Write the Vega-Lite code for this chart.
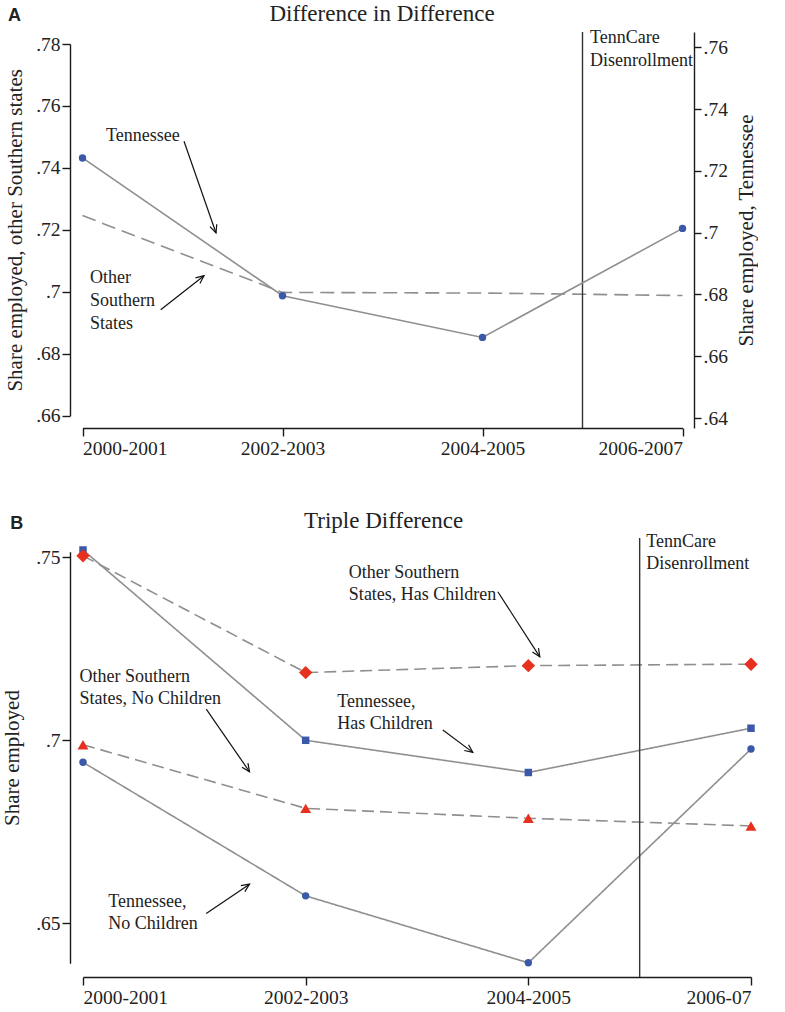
{
  "$schema": "https://vega.github.io/schema/vega-lite/v6.json",
  "background": "white",
  "padding": {"left": 1, "top": 3, "right": 0, "bottom": 0},
  "spacing": 110,
  "bounds": "flush",
  "config": {
    "view": {"stroke": null},
    "font": "Liberation Serif",
    "axis": {
      "domainColor": "#1a1a1a", "domainWidth": 1.4, "tickColor": "#1a1a1a", "tickWidth": 1.4,
      "labelFont": "Liberation Serif", "labelFontSize": 19.5, "labelColor": "#222",
      "titleFont": "Liberation Serif", "titleFontSize": 21, "titleFontWeight": "normal", "titleColor": "#222",
      "grid": false
    }
  },
  "datasets": {
    "did_other": [
      {"period": 0, "share": 0.7246},
      {"period": 1, "share": 0.6998},
      {"period": 2, "share": 0.6996},
      {"period": 3, "share": 0.6988}
    ],
    "did_tn": [
      {"period": 0, "share": 0.7242},
      {"period": 1, "share": 0.6796},
      {"period": 2, "share": 0.6661},
      {"period": 3, "share": 0.7014}
    ],
    "tenncare": [{"period": 2.5}],
    "top_arrows": [
      {"period": 0.5075, "share": 0.7486, "period2": 0.6675, "share2": 0.7190, "angle": 70.7},
      {"period": 0.391, "share": 0.6942, "period2": 0.6075, "share2": 0.7052, "angle": 321.9}
    ],
    "top_text": [
      {"period": 0.1175, "share": 0.7488, "label": "Tennessee"},
      {"period": 0.0375, "share": 0.7028, "label": "Other\nSouthern\nStates"},
      {"period": 2.5375, "share": 0.7803, "label": "TennCare\nDisenrollment"}
    ],
    "top_tag": [{"period": -0.3725, "share": 0.7873, "label": "A"}],
    "top_title": [{"period": 1.4975, "share": 0.7873, "label": "Difference in Difference"}],
    "triple": [
      {"period": 0, "series": "Tennessee, Has Children", "state": "Tennessee", "share": 0.7520},
      {"period": 1, "series": "Tennessee, Has Children", "state": "Tennessee", "share": 0.7000},
      {"period": 2, "series": "Tennessee, Has Children", "state": "Tennessee", "share": 0.6912},
      {"period": 3, "series": "Tennessee, Has Children", "state": "Tennessee", "share": 0.7033},
      {"period": 0, "series": "Tennessee, No Children", "state": "Tennessee", "share": 0.6940},
      {"period": 1, "series": "Tennessee, No Children", "state": "Tennessee", "share": 0.6575},
      {"period": 2, "series": "Tennessee, No Children", "state": "Tennessee", "share": 0.6392},
      {"period": 3, "series": "Tennessee, No Children", "state": "Tennessee", "share": 0.6976},
      {"period": 0, "series": "Other Southern States, Has Children", "state": "Other", "share": 0.7504},
      {"period": 1, "series": "Other Southern States, Has Children", "state": "Other", "share": 0.7185},
      {"period": 2, "series": "Other Southern States, Has Children", "state": "Other", "share": 0.7204},
      {"period": 3, "series": "Other Southern States, Has Children", "state": "Other", "share": 0.7208},
      {"period": 0, "series": "Other Southern States, No Children", "state": "Other", "share": 0.6988},
      {"period": 1, "series": "Other Southern States, No Children", "state": "Other", "share": 0.6814},
      {"period": 2, "series": "Other Southern States, No Children", "state": "Other", "share": 0.6787},
      {"period": 3, "series": "Other Southern States, No Children", "state": "Other", "share": 0.6766}
    ],
    "bottom_arrows": [
      {"period": 1.863, "share": 0.7406, "period2": 2.0515, "share2": 0.7228, "angle": 57.1},
      {"period": 1.616, "share": 0.7028, "period2": 1.7507, "share2": 0.6967, "angle": 36.6},
      {"period": 0.5535, "share": 0.7085, "period2": 0.7479, "share2": 0.6914, "angle": 55.2},
      {"period": 0.5535, "share": 0.6527, "period2": 0.7479, "share2": 0.6607, "angle": 326.2}
    ],
    "bottom_text": [
      {"period": 1.194, "share": 0.7443, "label": "Other Southern\nStates, Has Children"},
      {"period": -0.0153, "share": 0.7160, "label": "Other Southern\nStates, No Children"},
      {"period": 1.1416, "share": 0.7092, "label": "Tennessee,\nHas Children"},
      {"period": 0.1136, "share": 0.6544, "label": "Tennessee,\nNo Children"},
      {"period": 2.530, "share": 0.7529, "label": "TennCare\nDisenrollment"}
    ],
    "bottom_tag": [{"period": -0.3264, "share": 0.7577, "label": "B"}],
    "bottom_title": [{"period": 1.350, "share": 0.7579, "label": "Triple Difference"}]
  },
  "vconcat": [
    {
      "width": 624,
      "height": 396,
      "resolve": {"scale": {"y": "independent"}, "axis": {"y": "independent"}},
      "layer": [
        {
          "layer": [
            {
              "data": {"name": "did_other"},
              "mark": {"type": "line", "color": "#8f8f8f", "strokeWidth": 1.6, "strokeDash": [14, 7]},
              "encoding": {
                "x": {
                  "field": "period", "type": "quantitative",
                  "scale": {"domain": [0, 3], "range": [12.5, 612.5], "nice": false, "zero": false},
                  "axis": {"orient": "bottom", "values": [0, 1, 2, 3], "labelExpr": "['2000-2001','2002-2003','2004-2005','2006-2007'][datum.value]", "tickSize": 8, "labelPadding": 3, "title": null}
                },
                "y": {
                  "field": "share", "type": "quantitative",
                  "scale": {"domain": [0.66, 0.78], "range": [383.7, 12], "nice": false, "zero": false},
                  "axis": {"orient": "left", "values": [0.66, 0.68, 0.7, 0.72, 0.74, 0.76, 0.78], "labelExpr": "slice(format(datum.value, '.2~f'), 1)", "tickSize": 8, "labelPadding": 2, "title": "Share employed, other Southern states", "titlePadding": 10}
                }
              }
            },
            {
              "data": {"name": "tenncare"},
              "mark": {"type": "rule", "color": "#333", "strokeWidth": 1.4},
              "encoding": {"x": {"field": "period", "type": "quantitative"}}
            },
            {
              "data": {"name": "top_arrows"},
              "mark": {"type": "rule", "color": "#111", "strokeWidth": 1.2},
              "encoding": {
                "x": {"field": "period", "type": "quantitative"},
                "y": {"field": "share", "type": "quantitative"},
                "x2": {"field": "period2"},
                "y2": {"field": "share2"}
              }
            },
            {
              "data": {"name": "top_arrows"},
              "mark": {"type": "point", "shape": "M-1,-0.45L0,0L-1,0.45", "filled": false, "stroke": "#111", "strokeWidth": 1.2, "size": 256, "opacity": 1},
              "encoding": {
                "x": {"field": "period2", "type": "quantitative"},
                "y": {"field": "share2", "type": "quantitative"},
                "angle": {"field": "angle", "type": "quantitative", "scale": null}
              }
            },
            {
              "data": {"name": "top_text"},
              "mark": {"type": "text", "align": "left", "baseline": "alphabetic", "lineBreak": "\n", "lineHeight": 23, "fontSize": 18, "font": "Liberation Serif", "color": "#222"},
              "encoding": {
                "x": {"field": "period", "type": "quantitative"},
                "y": {"field": "share", "type": "quantitative"},
                "text": {"field": "label"}
              }
            },
            {
              "data": {"name": "top_title"},
              "mark": {"type": "text", "align": "center", "baseline": "alphabetic", "fontSize": 23, "font": "Liberation Serif", "color": "#222"},
              "encoding": {
                "x": {"field": "period", "type": "quantitative"},
                "y": {"field": "share", "type": "quantitative"},
                "text": {"field": "label"}
              }
            },
            {
              "data": {"name": "top_tag"},
              "mark": {"type": "text", "align": "left", "baseline": "alphabetic", "fontSize": 18, "font": "Liberation Sans", "fontWeight": "bold", "color": "#222"},
              "encoding": {
                "x": {"field": "period", "type": "quantitative"},
                "y": {"field": "share", "type": "quantitative"},
                "text": {"field": "label"}
              }
            }
          ]
        },
        {
          "data": {"name": "did_tn"},
          "encoding": {
            "x": {"field": "period", "type": "quantitative"},
            "y": {
              "field": "share", "type": "quantitative",
              "scale": {"domain": [0.63677, 0.76498], "nice": false, "zero": false},
              "axis": {"orient": "right", "values": [0.64, 0.66, 0.68, 0.7, 0.72, 0.74, 0.76], "labelExpr": "slice(format(datum.value, '.2~f'), 1)", "tickSize": 7, "labelPadding": 2, "title": "Share employed, Tennessee", "titleAngle": 270, "titleBaseline": "top", "titlePadding": 8}
            }
          },
          "layer": [
            {"mark": {"type": "line", "color": "#8f8f8f", "strokeWidth": 1.6}},
            {"mark": {"type": "point", "shape": "circle", "filled": true, "color": "#3b59a8", "size": 55, "opacity": 1}}
          ]
        }
      ]
    },
    {
      "width": 681,
      "height": 439,
      "layer": [
        {
          "data": {"name": "triple"},
          "mark": {"type": "line", "color": "#8f8f8f", "strokeWidth": 1.6},
          "encoding": {
            "x": {
              "field": "period", "type": "quantitative",
              "scale": {"domain": [0, 3], "range": [13, 681], "nice": false, "zero": false},
              "axis": {"orient": "bottom", "values": [0, 1, 2, 3], "labelExpr": "['2000-2001','2002-2003','2004-2005','2006-07'][datum.value]", "tickSize": 8, "labelPadding": 3, "title": null}
            },
            "y": {
              "field": "share", "type": "quantitative",
              "scale": {"domain": [0.63907, 0.75153], "range": [425.3, 13.7], "nice": false, "zero": false},
              "axis": {"orient": "left", "values": [0.65, 0.7, 0.75], "labelExpr": "slice(format(datum.value, '.2~f'), 1)", "tickSize": 8, "labelPadding": 2, "title": "Share employed", "titlePadding": 13}
            },
            "detail": {"field": "series"},
            "strokeDash": {"field": "state", "type": "nominal", "scale": {"domain": ["Tennessee", "Other"], "range": [[1, 0], [12, 6]]}, "legend": null}
          }
        },
        {
          "data": {"name": "tenncare"},
          "mark": {"type": "rule", "color": "#333", "strokeWidth": 1.4},
          "encoding": {"x": {"field": "period", "type": "quantitative"}}
        },
        {
          "data": {"name": "triple"},
          "transform": [{"filter": "datum.series === 'Tennessee, Has Children'"}],
          "mark": {"type": "point", "shape": "square", "filled": true, "color": "#3b59a8", "size": 56, "opacity": 1},
          "encoding": {
            "x": {"field": "period", "type": "quantitative"},
            "y": {"field": "share", "type": "quantitative"}
          }
        },
        {
          "data": {"name": "triple"},
          "transform": [{"filter": "datum.series === 'Tennessee, No Children'"}],
          "mark": {"type": "point", "shape": "circle", "filled": true, "color": "#3b59a8", "size": 55, "opacity": 1},
          "encoding": {
            "x": {"field": "period", "type": "quantitative"},
            "y": {"field": "share", "type": "quantitative"}
          }
        },
        {
          "data": {"name": "triple"},
          "transform": [{"filter": "datum.series === 'Other Southern States, Has Children'"}],
          "mark": {"type": "point", "shape": "diamond", "filled": true, "color": "#e8301e", "size": 180, "opacity": 1},
          "encoding": {
            "x": {"field": "period", "type": "quantitative"},
            "y": {"field": "share", "type": "quantitative"}
          }
        },
        {
          "data": {"name": "triple"},
          "transform": [{"filter": "datum.series === 'Other Southern States, No Children'"}],
          "mark": {"type": "point", "shape": "triangle-up", "filled": true, "color": "#e8301e", "size": 120, "opacity": 1},
          "encoding": {
            "x": {"field": "period", "type": "quantitative"},
            "y": {"field": "share", "type": "quantitative"}
          }
        },
        {
          "data": {"name": "bottom_arrows"},
          "mark": {"type": "rule", "color": "#111", "strokeWidth": 1.2},
          "encoding": {
            "x": {"field": "period", "type": "quantitative"},
            "y": {"field": "share", "type": "quantitative"},
            "x2": {"field": "period2"},
            "y2": {"field": "share2"}
          }
        },
        {
          "data": {"name": "bottom_arrows"},
          "mark": {"type": "point", "shape": "M-1,-0.45L0,0L-1,0.45", "filled": false, "stroke": "#111", "strokeWidth": 1.2, "size": 256, "opacity": 1},
          "encoding": {
            "x": {"field": "period2", "type": "quantitative"},
            "y": {"field": "share2", "type": "quantitative"},
            "angle": {"field": "angle", "type": "quantitative", "scale": null}
          }
        },
        {
          "data": {"name": "bottom_text"},
          "mark": {"type": "text", "align": "left", "baseline": "alphabetic", "lineBreak": "\n", "lineHeight": 22, "fontSize": 18, "font": "Liberation Serif", "color": "#222"},
          "encoding": {
            "x": {"field": "period", "type": "quantitative"},
            "y": {"field": "share", "type": "quantitative"},
            "text": {"field": "label"}
          }
        },
        {
          "data": {"name": "bottom_title"},
          "mark": {"type": "text", "align": "center", "baseline": "alphabetic", "fontSize": 23, "font": "Liberation Serif", "color": "#222"},
          "encoding": {
            "x": {"field": "period", "type": "quantitative"},
            "y": {"field": "share", "type": "quantitative"},
            "text": {"field": "label"}
          }
        },
        {
          "data": {"name": "bottom_tag"},
          "mark": {"type": "text", "align": "left", "baseline": "alphabetic", "fontSize": 18, "font": "Liberation Sans", "fontWeight": "bold", "color": "#222"},
          "encoding": {
            "x": {"field": "period", "type": "quantitative"},
            "y": {"field": "share", "type": "quantitative"},
            "text": {"field": "label"}
          }
        }
      ]
    }
  ]
}
